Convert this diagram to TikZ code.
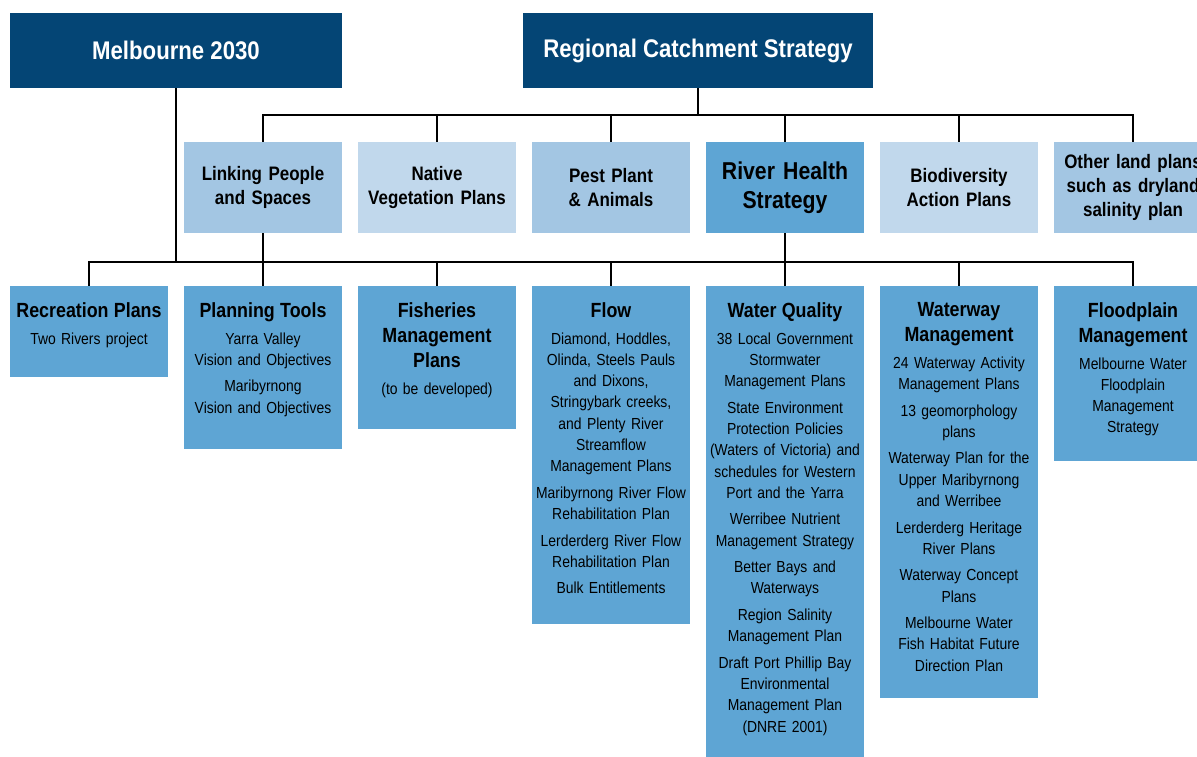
\documentclass[tikz,border=0pt]{standalone}
\usepackage{fontspec}
\setmainfont{Liberation Sans}[FakeStretch=0.87]
\usetikzlibrary{positioning}
\definecolor{navy}{HTML}{044575}
\definecolor{midblue}{HTML}{A3C6E3}
\definecolor{paleblue}{HTML}{C1D8EC}
\definecolor{lowblue}{HTML}{5EA5D4}
\tikzset{
    topbox/.style={fill=navy, text=white, minimum height=75pt, inner sep=0pt, outer sep=0pt,
        font=\bfseries\fontsize{25.5}{30}\selectfont},
    midbox/.style={minimum width=158pt, minimum height=91pt, inner xsep=4pt, outer sep=0pt,
        text width=150pt, align=center, font=\bfseries\fontsize{19.5}{24}\selectfont},
    lowbox/.style={fill=lowblue, minimum width=158pt, inner sep=0pt, outer sep=0pt},
    lowtext/.style={text width=158pt, inner sep=0pt, outer sep=0pt, align=center,
        font=\fontsize{16}{21.3}\selectfont},
    bar/.style={line width=2.7pt}
}
\newcommand{\hd}[1]{{\bfseries\fontsize{20.5}{21.3}\selectfont #1}}

\begin{document}
\begin{tikzpicture}[x=1pt, y=-1pt, node distance=16pt]
\path[use as bounding box, fill=white] (0,0) rectangle (1197,756);
\clip (0,0) rectangle (1197,756);

\node(M) [topbox, minimum width=332pt, anchor=north west] at (10,13) {Melbourne 2030};
\node(R) [topbox, minimum width=350pt, anchor=north west] at (523,13) {Regional Catchment Strategy};

\node(L1) [midbox, fill=midblue, anchor=north west] at (184,142) {Linking People\\and Spaces};
\node(L2) [midbox, fill=paleblue, right=of L1] {Native\\Vegetation Plans};
\node(L3) [midbox, fill=midblue, right=of L2] {Pest Plant\\\& Animals};
\node(L4) [midbox, fill=lowblue, right=of L3, font=\bfseries\fontsize{24.4}{29}\selectfont] {River Health\\Strategy};
\node(L5) [midbox, fill=paleblue, right=of L4] {Biodiversity\\Action Plans};
\node(L6) [midbox, fill=midblue, right=of L5] {Other land plans\\such as dryland\\salinity plan};

\node(B1) [lowbox, minimum height=91pt, anchor=north west] at (10,286) {};
\node(B2) [lowbox, minimum height=163pt, right=of B1.north east, anchor=north west] {};
\node(B3) [lowbox, minimum height=143pt, right=of B2.north east, anchor=north west] {};
\node(B4) [lowbox, minimum height=338pt, right=of B3.north east, anchor=north west] {};
\node(B5) [lowbox, minimum height=480pt, right=of B4.north east, anchor=north west] {};
\node(B6) [lowbox, minimum height=412pt, right=of B5.north east, anchor=north west] {};
\node(B7) [lowbox, minimum height=175pt, right=of B6.north east, anchor=north west] {};

\node(T1) [lowtext, below=16.8pt of B1.north] {\hd{Recreation Plans}\\[5.1pt]
    Two Rivers project};
\node(T2) [lowtext, below=16.8pt of B2.north] {\hd{Planning Tools}\\[5.1pt]
    Yarra Valley\\Vision and Objectives\\[5.2pt]
    Maribyrnong\\Vision and Objectives};
\node(T3) [lowtext, below=16.8pt of B3.north] {\hd{Fisheries}\\[3.7pt]\hd{Management}\\[3.7pt]\hd{Plans}\\[5.1pt]
    (to be developed)};
\node(T4) [lowtext, below=16.8pt of B4.north] {\hd{Flow}\\[5.1pt]
    Diamond, Hoddles,\\Olinda, Steels Pauls\\and Dixons,\\Stringybark creeks,\\and Plenty River\\Streamflow\\Management Plans\\[5.2pt]
    Maribyrnong River Flow\\Rehabilitation Plan\\[5.2pt]
    Lerderderg River Flow\\Rehabilitation Plan\\[5.2pt]
    Bulk Entitlements};
\node(T5) [lowtext, below=16.8pt of B5.north] {\hd{Water Quality}\\[5.1pt]
    38 Local Government\\Stormwater\\Management Plans\\[5.2pt]
    State Environment\\Protection Policies\\(Waters of Victoria) and\\schedules for Western\\Port and the Yarra\\[5.2pt]
    Werribee Nutrient\\Management Strategy\\[5.2pt]
    Better Bays and\\Waterways\\[5.2pt]
    Region Salinity\\Management Plan\\[5.2pt]
    Draft Port Phillip Bay\\Environmental\\Management Plan\\(DNRE 2001)};
\node(T6) [lowtext, below=16.8pt of B6.north] {\hd{Waterway}\\[3.7pt]\hd{Management}\\[5.1pt]
    24 Waterway Activity\\Management Plans\\[5.2pt]
    13 geomorphology\\plans\\[5.2pt]
    Waterway Plan for the\\Upper Maribyrnong\\and Werribee\\[5.2pt]
    Lerderderg Heritage\\River Plans\\[5.2pt]
    Waterway Concept\\Plans\\[5.2pt]
    Melbourne Water\\Fish Habitat Future\\Direction Plan};
\node(T7) [lowtext, below=16.8pt of B7.north] {\hd{Floodplain}\\[3.7pt]\hd{Management}\\[5.1pt]
    Melbourne Water\\Floodplain\\Management\\Strategy};

% connectors
\path (R.south) ++(0,27) coordinate (r);
\path (M.south) ++(0,174) coordinate (m);
\draw[bar] (R.south) -- (r);
\foreach \n in {1,...,6} \draw[bar] (r) -| (L\n.north);
\draw[bar] (M.south) -- (m);
\foreach \n in {1,...,7} \draw[bar] (m) -| (B\n.north);
\draw[bar] (L1.south) -- (B2.north);
\draw[bar] (L4.south) -- (B5.north);
\end{tikzpicture}
\end{document}
